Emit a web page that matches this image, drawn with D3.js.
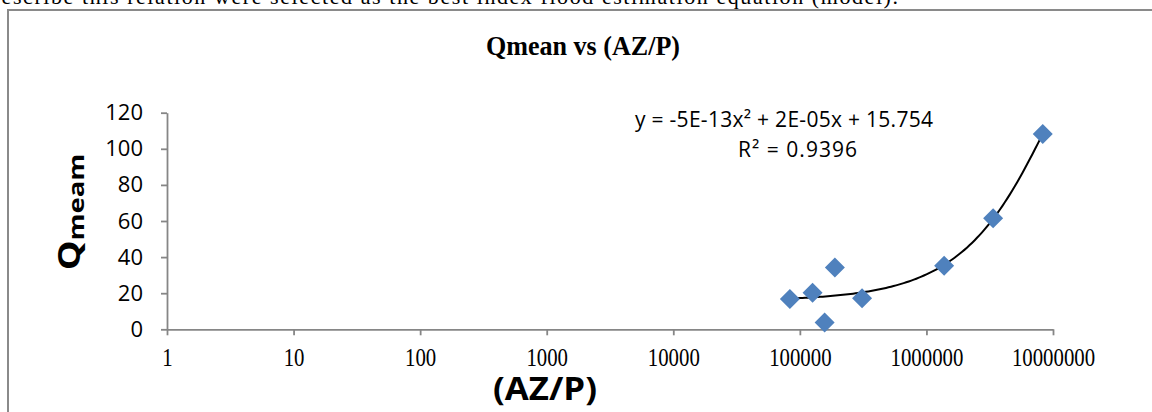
<!DOCTYPE html>
<html>
<head>
<meta charset="utf-8">
<script src="https://cdn.jsdelivr.net/npm/d3@7"></script>
<style>
  body { margin: 0; background: #fff; }
  svg { display: block; }
</style>
</head>
<body>
<svg id="chart"></svg>
<script>
// values
var azp = [83400, 126000, 189000, 157000, 310000, 1380000, 3365000, 8300000];
var qmean = [16.8, 20.3, 34.3, 3.7, 17.2, 35.2, 61.5, 108.2];
var xTicks = [1, 10, 100, 1000, 10000, 100000, 1000000, 10000000];
var yTicks = [0, 20, 40, 60, 80, 100, 120];
var equationLines = ["y = -5E-13x² + 2E-05x + 15.754", "R² = 0.9396"];
var titleText = "Qmean vs (AZ/P)";
var pageText = "describe this relation were selected as the best index flood estimation equation (model).";

var width = 1152, height = 412;
var axisColor = "#868686";
var markerColor = "#4f81bd";

var svg = d3.select("#chart")
    .attr("width", width)
    .attr("height", height);

var x = d3.scaleLog().domain([1, 1e7]).range([167, 1053]);
var y = d3.scaleLinear().domain([0, 120]).range([329.3, 112.7]);

// line of the paper text, cut off by the top edge
svg.append("text")
    .attr("x", -11)
    .attr("y", 4)
    .attr("textLength", 909)
    .attr("font-family", "Liberation Serif")
    .attr("font-size", 22)
    .text(pageText);

// chart frame
svg.append("rect")
    .attr("x", 8)
    .attr("y", 10)
    .attr("width", 1160)
    .attr("height", 420)
    .attr("fill", "none")
    .attr("stroke", "#8a8a8a")
    .attr("stroke-width", 2);

svg.append("text")
    .attr("x", 583)
    .attr("y", 55)
    .attr("text-anchor", "middle")
    .attr("font-family", "Liberation Serif")
    .attr("font-weight", "bold")
    .attr("font-size", 27)
    .attr("textLength", 194)
    .attr("lengthAdjust", "spacingAndGlyphs")
    .text(titleText);

// y axis
var yAxis = svg.append("g")
    .attr("transform", "translate(167,0)")
    .call(d3.axisLeft(y).tickValues(yTicks).tickSize(6).tickSizeOuter(0).tickPadding(18));
yAxis.selectAll("text")
    .attr("font-family", "Open Sans")
    .attr("font-size", 22)
    .attr("fill", "#000");

// x axis
var xAxis = svg.append("g")
    .attr("transform", "translate(0," + y(0) + ")")
    .call(d3.axisBottom(x).tickValues(xTicks).tickFormat(d3.format("d")).tickSize(6).tickSizeOuter(0));
xAxis.selectAll("text")
    .attr("y", 37)
    .attr("dy", 0)
    .attr("transform", "scale(0.8,1)")
    .attr("font-family", "Liberation Serif")
    .attr("font-size", 26)
    .attr("fill", "#000");

svg.selectAll(".domain, .tick line")
    .attr("stroke", axisColor)
    .attr("stroke-width", 1.8);

// axis titles
svg.append("text")
    .attr("x", 545)
    .attr("y", 400)
    .attr("text-anchor", "middle")
    .attr("font-family", "Open Sans")
    .attr("font-weight", "bold")
    .attr("font-size", 33)
    .attr("textLength", 104)
    .attr("lengthAdjust", "spacingAndGlyphs")
    .text("(AZ/P)");

var yTitle = svg.append("text")
    .attr("transform", "translate(80,212) rotate(-90) scale(1.25,1)")
    .attr("text-anchor", "middle")
    .attr("font-family", "Open Sans")
    .attr("font-weight", "bold");
yTitle.append("tspan").attr("font-size", 30).text("Q");
yTitle.append("tspan").attr("font-size", 22).attr("dy", 4).text("meam");

// quadratic least squares trend line, as the spreadsheet draws it
var pts = azp.map(function(d, i) { return { x: d, y: qmean[i] }; });
function quadFit(data) {
  var s = [0, 0, 0, 0, 0], t = [0, 0, 0];
  data.forEach(function(p) {
    var u = p.x / 1e6;
    for (var k = 0; k < 5; k++) s[k] += Math.pow(u, k);
    for (var k = 0; k < 3; k++) t[k] += p.y * Math.pow(u, k);
  });
  var m = [[s[0], s[1], s[2]], [s[1], s[2], s[3]], [s[2], s[3], s[4]]];
  function det(a) {
    return a[0][0] * (a[1][1] * a[2][2] - a[1][2] * a[2][1])
         - a[0][1] * (a[1][0] * a[2][2] - a[1][2] * a[2][0])
         + a[0][2] * (a[1][0] * a[2][1] - a[1][1] * a[2][0]);
  }
  var D = det(m);
  var coef = [0, 1, 2].map(function(c) {
    var mc = m.map(function(row, r) { return row.map(function(v, j) { return j === c ? t[r] : v; }); });
    return det(mc) / D;
  });
  return function(xv) { var u = xv / 1e6; return coef[0] + coef[1] * u + coef[2] * u * u; };
}
var fit = quadFit(pts);
var lo = Math.log10(d3.min(azp)), hi = Math.log10(d3.max(azp));
var curve = d3.range(0, 101).map(function(i) {
  var xv = Math.pow(10, lo + (hi - lo) * i / 100);
  return [xv, fit(xv)];
});

svg.append("path")
    .datum(curve)
    .attr("fill", "none")
    .attr("stroke", "#000")
    .attr("stroke-width", 2)
    .attr("d", d3.line().x(function(d) { return x(d[0]); }).y(function(d) { return y(d[1]); }));

// markers
svg.selectAll(".pt")
    .data(pts)
    .enter()
    .append("path")
    .attr("class", "pt")
    .attr("d", d3.symbol(d3.symbolSquare, 200))
    .attr("transform", function(d) { return "translate(" + x(d.x) + "," + y(d.y) + ") rotate(45)"; })
    .attr("fill", markerColor);

// trend line label
svg.selectAll(".eq")
    .data(equationLines)
    .enter()
    .append("text")
    .attr("class", "eq")
    .attr("x", function(d, i) { return i === 0 ? 635 : 738; })
    .attr("y", function(d, i) { return 127 + i * 30; })
    .attr("font-family", "Open Sans")
    .attr("font-size", 21)
    .attr("textLength", function(d, i) { return i === 0 ? 298 : 119; })
    .text(function(d) { return d; });
</script>
</body>
</html>
